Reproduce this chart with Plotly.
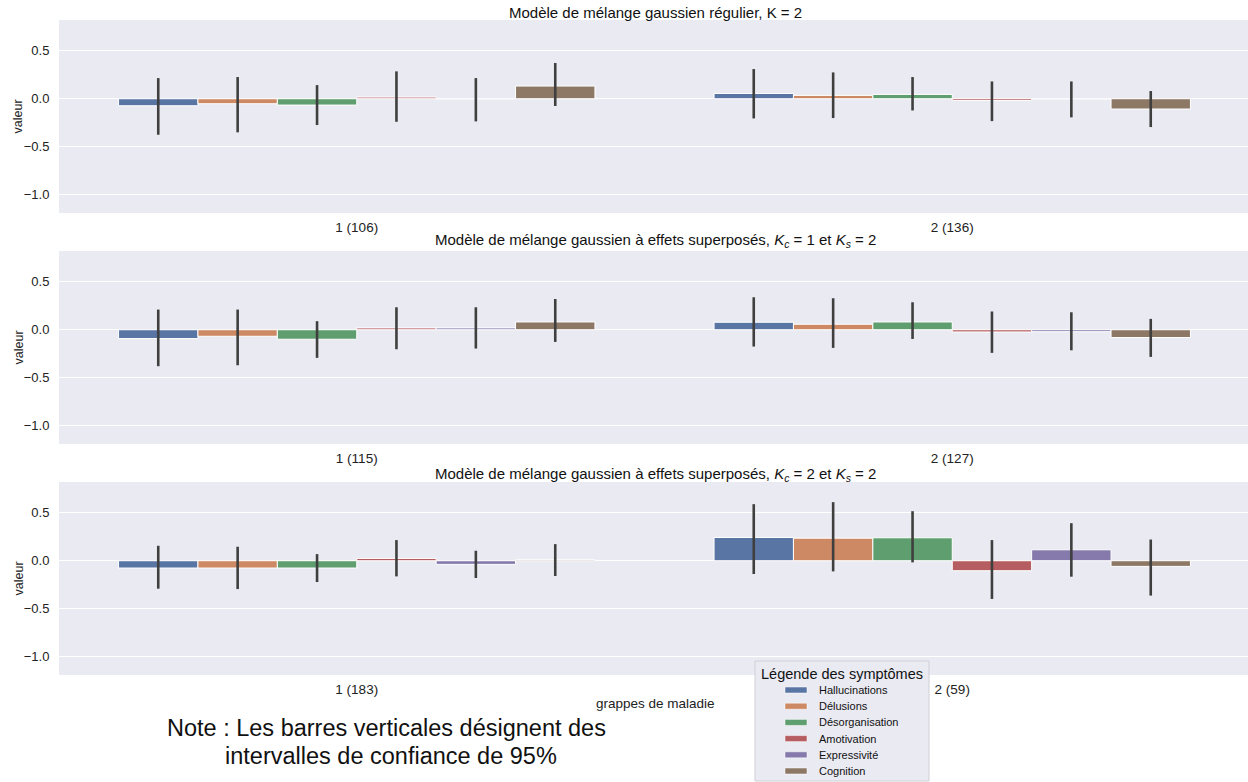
import plotly.graph_objects as go

W, H = 1248, 782

symptoms = ["Hallucinations", "Délusions", "Désorganisation", "Amotivation", "Expressivité", "Cognition"]
colors = ["#5975a4", "#cc8963", "#5f9e6e", "#b55d60", "#857aab", "#8d7866"]

cats_p1 = ["1 (106)", "2 (136)"]
cats_p2 = ["1 (115)", "2 (127)"]
cats_p3 = ["1 (183)", "2 (59)"]

titles = [
    "Modèle de mélange gaussien régulier, K = 2",
    "Modèle de mélange gaussien à effets superposés, <i>K</i><sub><i>c</i></sub> = 1 et <i>K</i><sub><i>s</i></sub> = 2",
    "Modèle de mélange gaussien à effets superposés, <i>K</i><sub><i>c</i></sub> = 2 et <i>K</i><sub><i>s</i></sub> = 2",
]

# per symptom: [grappe 1, grappe 2]
mean_p1 = [[-0.073, 0.055], [-0.052, 0.035], [-0.066, 0.045], [0.017, -0.018], [-0.005, -0.005], [0.132, -0.107]]
low_p1 = [[-0.375, -0.205], [-0.350, -0.201], [-0.274, -0.122], [-0.240, -0.233], [-0.236, -0.194], [-0.076, -0.295]]
high_p1 = [[0.215, 0.309], [0.226, 0.274], [0.142, 0.226], [0.285, 0.180], [0.215, 0.180], [0.372, 0.080]]

mean_p2 = [[-0.092, 0.078], [-0.068, 0.057], [-0.099, 0.081], [0.019, -0.023], [0.019, -0.020], [0.081, -0.081]]
low_p2 = [[-0.380, -0.175], [-0.370, -0.189], [-0.293, -0.096], [-0.203, -0.241], [-0.196, -0.214], [-0.127, -0.283]]
high_p2 = [[0.210, 0.338], [0.210, 0.328], [0.089, 0.286], [0.234, 0.190], [0.234, 0.182], [0.320, 0.113]]

mean_p3 = [[-0.076, 0.242], [-0.076, 0.235], [-0.076, 0.239], [0.024, -0.104], [-0.038, 0.114], [0.012, -0.059]]
low_p3 = [[-0.291, -0.138], [-0.295, -0.111], [-0.222, -0.017], [-0.163, -0.398], [-0.180, -0.166], [-0.159, -0.363]]
high_p3 = [[0.156, 0.589], [0.146, 0.610], [0.069, 0.516], [0.215, 0.215], [0.104, 0.391], [0.173, 0.221]]

y_ticks = [-1.0, -0.5, 0.0, 0.5]
y_range = [-1.19, 0.82]
note_lines = ["Note : Les barres verticales désignent des", "intervalles de confiance de 95%"]

FONT = "Liberation Sans, Arial, Helvetica, sans-serif"


def px(x):
    return x / W


def py(y):
    return 1 - y / H


fig = go.Figure()

panels = [
    (cats_p1, mean_p1, low_p1, high_p1),
    (cats_p2, mean_p2, low_p2, high_p2),
    (cats_p3, mean_p3, low_p3, high_p3),
]
panel_px = [(20, 213), (251, 444), (482, 675)]
title_y = [12, 241, 474]

for p, (cats, means, lows, highs) in enumerate(panels):
    xa = "x" if p == 0 else f"x{p+1}"
    ya = "y" if p == 0 else f"y{p+1}"
    for s, name in enumerate(symptoms):
        m = means[s]
        plus = [highs[s][i] - m[i] for i in range(2)]
        minus = [m[i] - lows[s][i] for i in range(2)]
        fig.add_trace(go.Bar(
            x=[0, 1], y=m, name=name, legendgroup=name, showlegend=False,
            marker=dict(color=colors[s], line=dict(color="white", width=1)),
            error_y=dict(type="data", array=plus, arrayminus=minus, color="#3f3f3f",
                         thickness=2.6, width=0),
            xaxis=xa, yaxis=ya,
        ))
    top, bot = panel_px[p]
    kx = "xaxis" if p == 0 else f"xaxis{p+1}"
    ky = "yaxis" if p == 0 else f"yaxis{p+1}"
    fig.update_layout(**{
        kx: dict(domain=[px(59), 1], range=[-0.5, 1.5 - 2 / 596], anchor=ya,
                 tickmode="array", tickvals=[0, 1], ticktext=cats, showgrid=False,
                 zeroline=False, showline=False, ticks="outside", ticklen=2,
                 tickcolor="rgba(0,0,0,0)", tickfont=dict(size=13.5, color="#222", family=FONT)),
        ky: dict(domain=[py(bot), py(top)], range=y_range, anchor=xa,
                 tickmode="array", tickvals=y_ticks, tickformat=".1f",
                 showgrid=True, gridcolor="white", gridwidth=1.3, zeroline=False,
                 showline=False, ticks="outside", ticklen=6, tickcolor="rgba(0,0,0,0)",
                 tickfont=dict(size=13, color="#222", family=FONT)),
    })
    fig.add_annotation(text=titles[p], x=px(655), y=py(title_y[p]), xref="paper", yref="paper",
                       showarrow=False, xanchor="center", yanchor="middle",
                       font=dict(size=15, color="#111", family=FONT))
    fig.add_annotation(text="valeur", x=px(18), y=py((top + bot) / 2), xref="paper", yref="paper",
                       showarrow=False, textangle=-90, xanchor="center", yanchor="middle",
                       font=dict(size=12.5, color="#222", family=FONT))

fig.add_annotation(text="grappes de maladie", x=px(655), y=py(703), xref="paper", yref="paper",
                   showarrow=False, xanchor="center", yanchor="middle",
                   font=dict(size=13.5, color="#222", family=FONT))

fig.add_annotation(text=note_lines[0], x=px(386), y=py(728), xref="paper", yref="paper",
                   showarrow=False, xanchor="center", yanchor="middle",
                   font=dict(size=23.5, color="#111", family=FONT))
fig.add_annotation(text=note_lines[1], x=px(391), y=py(756), xref="paper", yref="paper",
                   showarrow=False, xanchor="center", yanchor="middle",
                   font=dict(size=23.5, color="#111", family=FONT))

# legend box (drawn)
fig.add_shape(type="rect", xref="paper", yref="paper",
              x0=px(755), x1=px(929), y0=py(781), y1=py(661),
              fillcolor="#EAEAF2", line=dict(color="#cfcfd6", width=1), layer="above")
fig.add_annotation(text="Légende des symptômes", x=px(842), y=py(674), xref="paper", yref="paper",
                   showarrow=False, xanchor="center", yanchor="middle",
                   font=dict(size=14.5, color="#111", family=FONT))
for s, name in enumerate(symptoms):
    yc = 690 + s * 16.2
    fig.add_shape(type="rect", xref="paper", yref="paper",
                  x0=px(785), x1=px(807), y0=py(yc + 3), y1=py(yc - 3),
                  fillcolor=colors[s], line=dict(color="white", width=0.5), layer="above")
    fig.add_annotation(text=name, x=px(817), y=py(yc), xref="paper", yref="paper",
                       showarrow=False, xanchor="left", yanchor="middle",
                       font=dict(size=11, color="#111", family=FONT))

fig.update_layout(
    width=W, height=H,
    margin=dict(l=0, r=0, t=0, b=0),
    paper_bgcolor="white", plot_bgcolor="#EAEAF2",
    barmode="group", bargap=0.2, bargroupgap=0,
    showlegend=False,
    font=dict(family=FONT),
)

fig.write_html("out.html")
